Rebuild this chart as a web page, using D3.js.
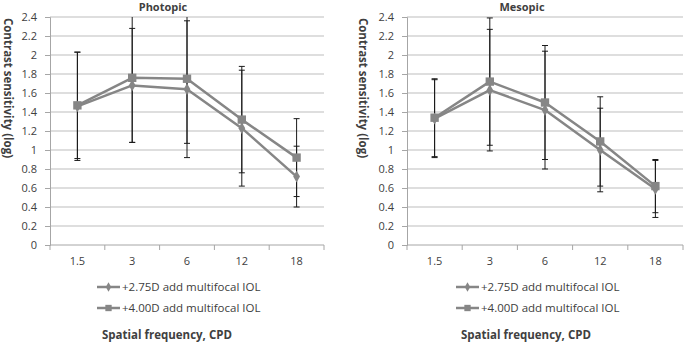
<!DOCTYPE html>
<html>
<head>
<meta charset="utf-8">
<script src="https://cdn.jsdelivr.net/npm/d3@7"></script>
<style>
  body { margin: 0; background: #fff; }
  svg text { font-family: "Open Sans", "Noto Sans", sans-serif; fill: #404040; }
</style>
</head>
<body>
<svg id="chart" width="685" height="343"></svg>
<script>
// categories / tick labels
const frequencies = ["1.5", "3", "6", "12", "18"];
const yTicks = [0, 0.2, 0.4, 0.6, 0.8, 1, 1.2, 1.4, 1.6, 1.8, 2, 2.2, 2.4];
const seriesNames = ["+2.75D add multifocal IOL", "+4.00D add multifocal IOL"];

// Photopic means and error (SD)
const photopic275 = [1.46, 1.68, 1.64, 1.23, 0.72];
const photopic275Err = [0.57, 0.60, 0.72, 0.61, 0.32];
const photopic400 = [1.47, 1.76, 1.75, 1.32, 0.92];
const photopic400Err = [0.56, 0.68, 0.68, 0.56, 0.41];

// Mesopic means and error (SD)
const mesopic275 = [1.33, 1.63, 1.42, 1.00, 0.59];
const mesopic275Err = [0.41, 0.64, 0.62, 0.44, 0.30];
const mesopic400 = [1.34, 1.72, 1.50, 1.09, 0.62];
const mesopic400Err = [0.41, 0.67, 0.60, 0.47, 0.28];

const svg = d3.select("#chart");
const gray = "#868686";

function drawPanel(opts) {
  const g = svg.append("g");
  const x = d3.scaleBand().domain(frequencies).range([opts.left, opts.right]);
  const y = d3.scaleLinear().domain([0, 2.4]).range([245, 17]);

  // gridlines
  g.append("g")
    .selectAll("line")
    .data(yTicks.slice(1))
    .join("line")
    .attr("x1", opts.left).attr("x2", opts.right)
    .attr("y1", d => y(d)).attr("y2", d => y(d))
    .attr("stroke", "#bdbdbd").attr("stroke-width", 1);

  // y axis
  const yAxis = g.append("g")
    .attr("transform", `translate(${opts.left},0)`)
    .call(d3.axisLeft(y).tickValues(yTicks).tickSize(5).tickPadding(8).tickFormat(d3.format("~g")));
  yAxis.select(".domain").attr("stroke", "#a6a6a6");
  yAxis.selectAll(".tick line").attr("stroke", "#a6a6a6");
  yAxis.selectAll("text").style("font-size", "11px").attr("fill", "#404040");

  // x axis: ticks at category boundaries
  const xAxis = g.append("g").attr("transform", "translate(0,245)");
  xAxis.append("line")
    .attr("x1", opts.left).attr("x2", opts.right)
    .attr("stroke", "#a6a6a6");
  const bounds = frequencies.map(f => x(f)).concat([opts.right]);
  xAxis.selectAll(".bt")
    .data(bounds)
    .join("line")
    .attr("class", "bt")
    .attr("x1", d => d).attr("x2", d => d)
    .attr("y1", 0).attr("y2", 5)
    .attr("stroke", "#a6a6a6");
  xAxis.selectAll("text")
    .data(frequencies)
    .join("text")
    .attr("x", d => x(d) + x.bandwidth() / 2)
    .attr("y", 20)
    .attr("text-anchor", "middle")
    .style("font-size", "11px")
    .text(d => d);

  const cx = d => x(d) + x.bandwidth() / 2;

  // error bars
  opts.series.forEach(s => {
    const eb = g.append("g").attr("stroke", "#1a1a1a").attr("stroke-width", 1);
    frequencies.forEach((f, i) => {
      const hi = s.values[i] + s.err[i];
      const lo = s.values[i] - s.err[i];
      eb.append("line")
        .attr("x1", cx(f)).attr("x2", cx(f))
        .attr("y1", y(Math.min(hi, 2.4))).attr("y2", y(Math.max(lo, 0)));
      if (hi <= 2.4) {
        eb.append("line")
          .attr("x1", cx(f) - 3).attr("x2", cx(f) + 3)
          .attr("y1", y(hi)).attr("y2", y(hi));
      }
      eb.append("line")
        .attr("x1", cx(f) - 3).attr("x2", cx(f) + 3)
        .attr("y1", y(lo)).attr("y2", y(lo));
    });
  });

  // lines and markers
  const line = d3.line().x((d, i) => cx(frequencies[i])).y(d => y(d));
  opts.series.forEach(s => {
    g.append("path")
      .datum(s.values)
      .attr("fill", "none")
      .attr("stroke", gray)
      .attr("stroke-width", 2.5)
      .attr("stroke-linejoin", "round")
      .attr("d", line);
    const sym = d3.symbol().type(s.marker === "square" ? d3.symbolSquare : d3.symbolDiamond)
      .size(s.marker === "square" ? 70 : 40);
    g.append("g")
      .selectAll("path")
      .data(s.values)
      .join("path")
      .attr("transform", (d, i) => `translate(${cx(frequencies[i])},${y(d)})`)
      .attr("d", sym)
      .attr("fill", gray);
  });

  // title
  g.append("text")
    .attr("x", opts.titleX).attr("y", 11)
    .attr("text-anchor", "middle")
    .style("font-size", "11px").style("font-weight", "bold")
    .attr("fill", "#262626")
    .text(opts.title);

  // y axis title
  g.append("text")
    .attr("transform", `translate(${opts.yTitleX},88) rotate(90)`)
    .attr("text-anchor", "middle")
    .style("font-size", "11.5px").style("font-weight", "bold")
    .attr("fill", "#262626")
    .text("Contrast sensitivity (log)");

  // legend
  opts.series.forEach((s, i) => {
    const ly = 287 + i * 21;
    g.append("line")
      .attr("x1", opts.legendX).attr("x2", opts.legendX + 23)
      .attr("y1", ly).attr("y2", ly)
      .attr("stroke", gray).attr("stroke-width", 2.5);
    g.append("path")
      .attr("transform", `translate(${opts.legendX + 11.5},${ly})`)
      .attr("d", d3.symbol().type(s.marker === "square" ? d3.symbolSquare : d3.symbolDiamond)
        .size(s.marker === "square" ? 40 : 25))
      .attr("fill", gray);
    g.append("text")
      .attr("x", opts.legendX + 25).attr("y", ly + 4)
      .style("font-size", "11.5px")
      .text(s.name);
  });

  // x axis title
  g.append("text")
    .attr("x", opts.legendX + 5).attr("y", 339)
    .style("font-size", "11.5px").style("font-weight", "bold")
    .attr("fill", "#262626")
    .text("Spatial frequency, CPD");
}

drawPanel({
  left: 50, right: 324, title: "Photopic", titleX: 163, yTitleX: 4, legendX: 97,
  series: [
    { name: seriesNames[0], values: photopic275, err: photopic275Err, marker: "diamond" },
    { name: seriesNames[1], values: photopic400, err: photopic400Err, marker: "square" }
  ]
});

drawPanel({
  left: 407, right: 683, title: "Mesopic", titleX: 522, yTitleX: 359, legendX: 456,
  series: [
    { name: seriesNames[0], values: mesopic275, err: mesopic275Err, marker: "diamond" },
    { name: seriesNames[1], values: mesopic400, err: mesopic400Err, marker: "square" }
  ]
});
</script>
</body>
</html>
